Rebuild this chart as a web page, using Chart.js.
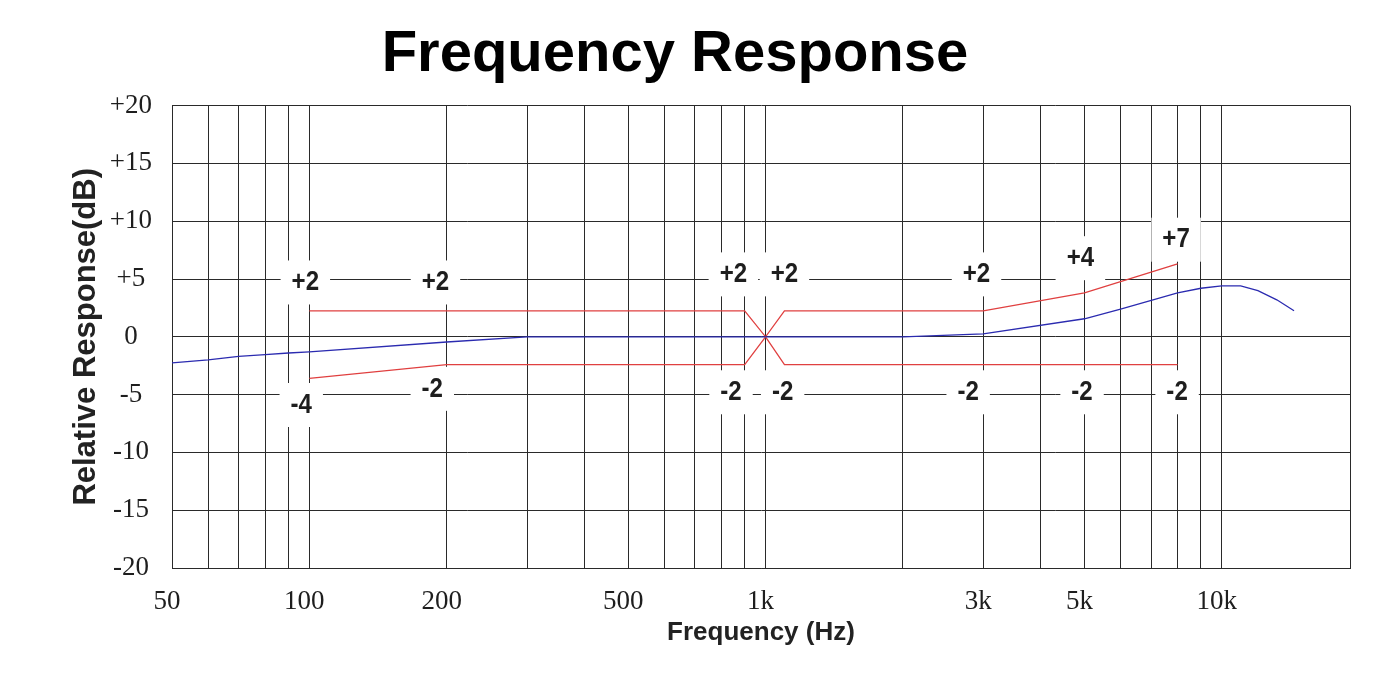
<!DOCTYPE html>
<html>
<head>
<meta charset="utf-8">
<script src="https://cdn.jsdelivr.net/npm/chart.js@4.4.1/dist/chart.umd.min.js"></script>
<style>
  html, body { margin: 0; padding: 0; background: #fff; }
</style>
</head>
<body>
<canvas id="fr" width="1380" height="677"></canvas>
<script>
// measured response (Hz / dB)
const respFreq = [50, 60, 70, 80, 90, 100, 200, 300, 1000, 2000, 3000, 5000, 6000, 8000, 9000, 10000, 11000, 12000, 13200, 14400];
const respDb   = [-2.25, -2.0, -1.7, -1.55, -1.4, -1.3, -0.45, 0, 0, 0, 0.26, 1.56, 2.4, 3.8, 4.2, 4.4, 4.4, 4.0, 3.2, 2.25];

// tolerance window
const upperFreq = [100, 900, 1000, 1100, 3000, 5000, 8000];
const upperDb   = [2.25, 2.25, 0, 2.25, 2.25, 3.8, 6.3];
const lowerFreq = [100, 200, 900, 1000, 1100, 8000];
const lowerDb   = [-3.6, -2.4, -2.4, 0, -2.4, -2.4];

// axis
const gridFreqs = [50, 60, 70, 80, 90, 100, 200, 300, 400, 500, 600, 700, 800, 900,
                   1000, 2000, 3000, 4000, 5000, 6000, 7000, 8000, 9000, 10000, 19100];
const tickFreqs = [50, 100, 200, 500, 1000, 3000, 5000, 10000];
const tickText  = ['50', '100', '200', '500', '1k', '3k', '5k', '10k'];

// tolerance annotations
const noteText = ['+2', '+2', '+2', '+2', '+2', '+4', '+7', '-4', '-2', '-2', '-2', '-2', '-2', '-2'];
const noteFreq = [98, 189, 850, 1100, 2900, 4900, 7940, 96, 186, 840, 1090, 2780, 4940, 7980];
const noteDb   = [4.7, 4.7, 5.4, 5.4, 5.4, 6.8, 8.4, -5.9, -4.5, -4.8, -4.8, -4.8, -4.8, -4.8];

const pts = (fs, ds) => fs.map((f, i) => ({ x: f, y: ds[i] }));

const SERIF = "'Liberation Serif', 'Times New Roman', serif";
const SANS = "'Liberation Sans', Arial, sans-serif";

// white boxed labels, drawn over the grid but under the lines
const notesPlugin = {
    id: 'notes',
    beforeDatasetsDraw(chart) {
        const { ctx, scales: { x, y } } = chart;
        ctx.save();
        ctx.font = 'bold 28px ' + SANS;
        ctx.textAlign = 'center';
        ctx.textBaseline = 'middle';
        noteText.forEach((t, i) => {
            const px = x.getPixelForValue(noteFreq[i]);
            const py = y.getPixelForValue(noteDb[i]);
            const w = ctx.measureText(t).width * 0.86 + 22;
            ctx.fillStyle = '#fff';
            ctx.fillRect(px - w / 2, py - 22, w, 44);
            // narrow-ish bold digits like the original print
            ctx.save();
            ctx.translate(px, py);
            ctx.scale(0.86, 1);
            ctx.fillStyle = '#1e1e1e';
            ctx.fillText(t, 0, 0);
            ctx.restore();
        });
        ctx.restore();
    }
};

const line = (data, color) => ({
    data, borderColor: color, borderWidth: 1.3,
    showLine: true, pointRadius: 0, tension: 0, fill: false
});

new Chart(document.getElementById('fr'), {
    type: 'scatter',
    data: {
        datasets: [
            line(pts(respFreq, respDb), '#2b2bb0'),
            line(pts(upperFreq, upperDb), '#e04040'),
            line(pts(lowerFreq, lowerDb), '#e04040')
        ]
    },
    options: {
        responsive: false,
        animation: false,
        layout: { padding: { left: 0, right: 30, top: 0, bottom: 0 } },
        plugins: {
            legend: { display: false },
            tooltip: { enabled: false },
            title: {
                display: true,
                text: 'Frequency Response',
                color: '#000',
                font: { family: SANS, size: 58, weight: 'bold' },
                padding: { top: 20, bottom: 16 }
            }
        },
        scales: {
            x: {
                type: 'logarithmic',
                min: 50, max: 19100,
                afterBuildTicks: s => { s.ticks = gridFreqs.map(v => ({ value: v })); },
                afterFit: s => { s.height = 109; },
                grid: { color: '#2a2a2a', lineWidth: 1, drawTicks: false },
                border: { display: true, color: '#2a2a2a' },
                ticks: {
                    autoSkip: false, maxRotation: 0, minRotation: 0,
                    padding: 18, labelOffset: -5,
                    color: '#1e1e1e',
                    font: { family: SERIF, size: 27 },
                    callback: v => {
                        const i = tickFreqs.indexOf(v);
                        return i < 0 ? '' : tickText[i];
                    }
                },
                title: {
                    display: true, text: 'Frequency (Hz)', color: '#222',
                    font: { family: SANS, size: 26, weight: 'bold' },
                    padding: { top: 0, bottom: 29 }
                }
            },
            y: {
                min: -20, max: 20,
                afterFit: s => { s.width = 172; },
                grid: { color: '#2a2a2a', lineWidth: 1, drawTicks: false },
                border: { display: true, color: '#2a2a2a' },
                ticks: {
                    stepSize: 5, padding: 20, crossAlign: 'center',
                    color: '#1e1e1e',
                    font: { family: SERIF, size: 27 },
                    callback: v => (v > 0 ? '+' + v : String(v))
                },
                title: {
                    display: true, text: 'Relative Response(dB)', color: '#222',
                    font: { family: SANS, size: 31, weight: 'bold' },
                    padding: { top: 68, bottom: 0 }
                }
            }
        }
    },
    plugins: [notesPlugin]
});
</script>
</body>
</html>
